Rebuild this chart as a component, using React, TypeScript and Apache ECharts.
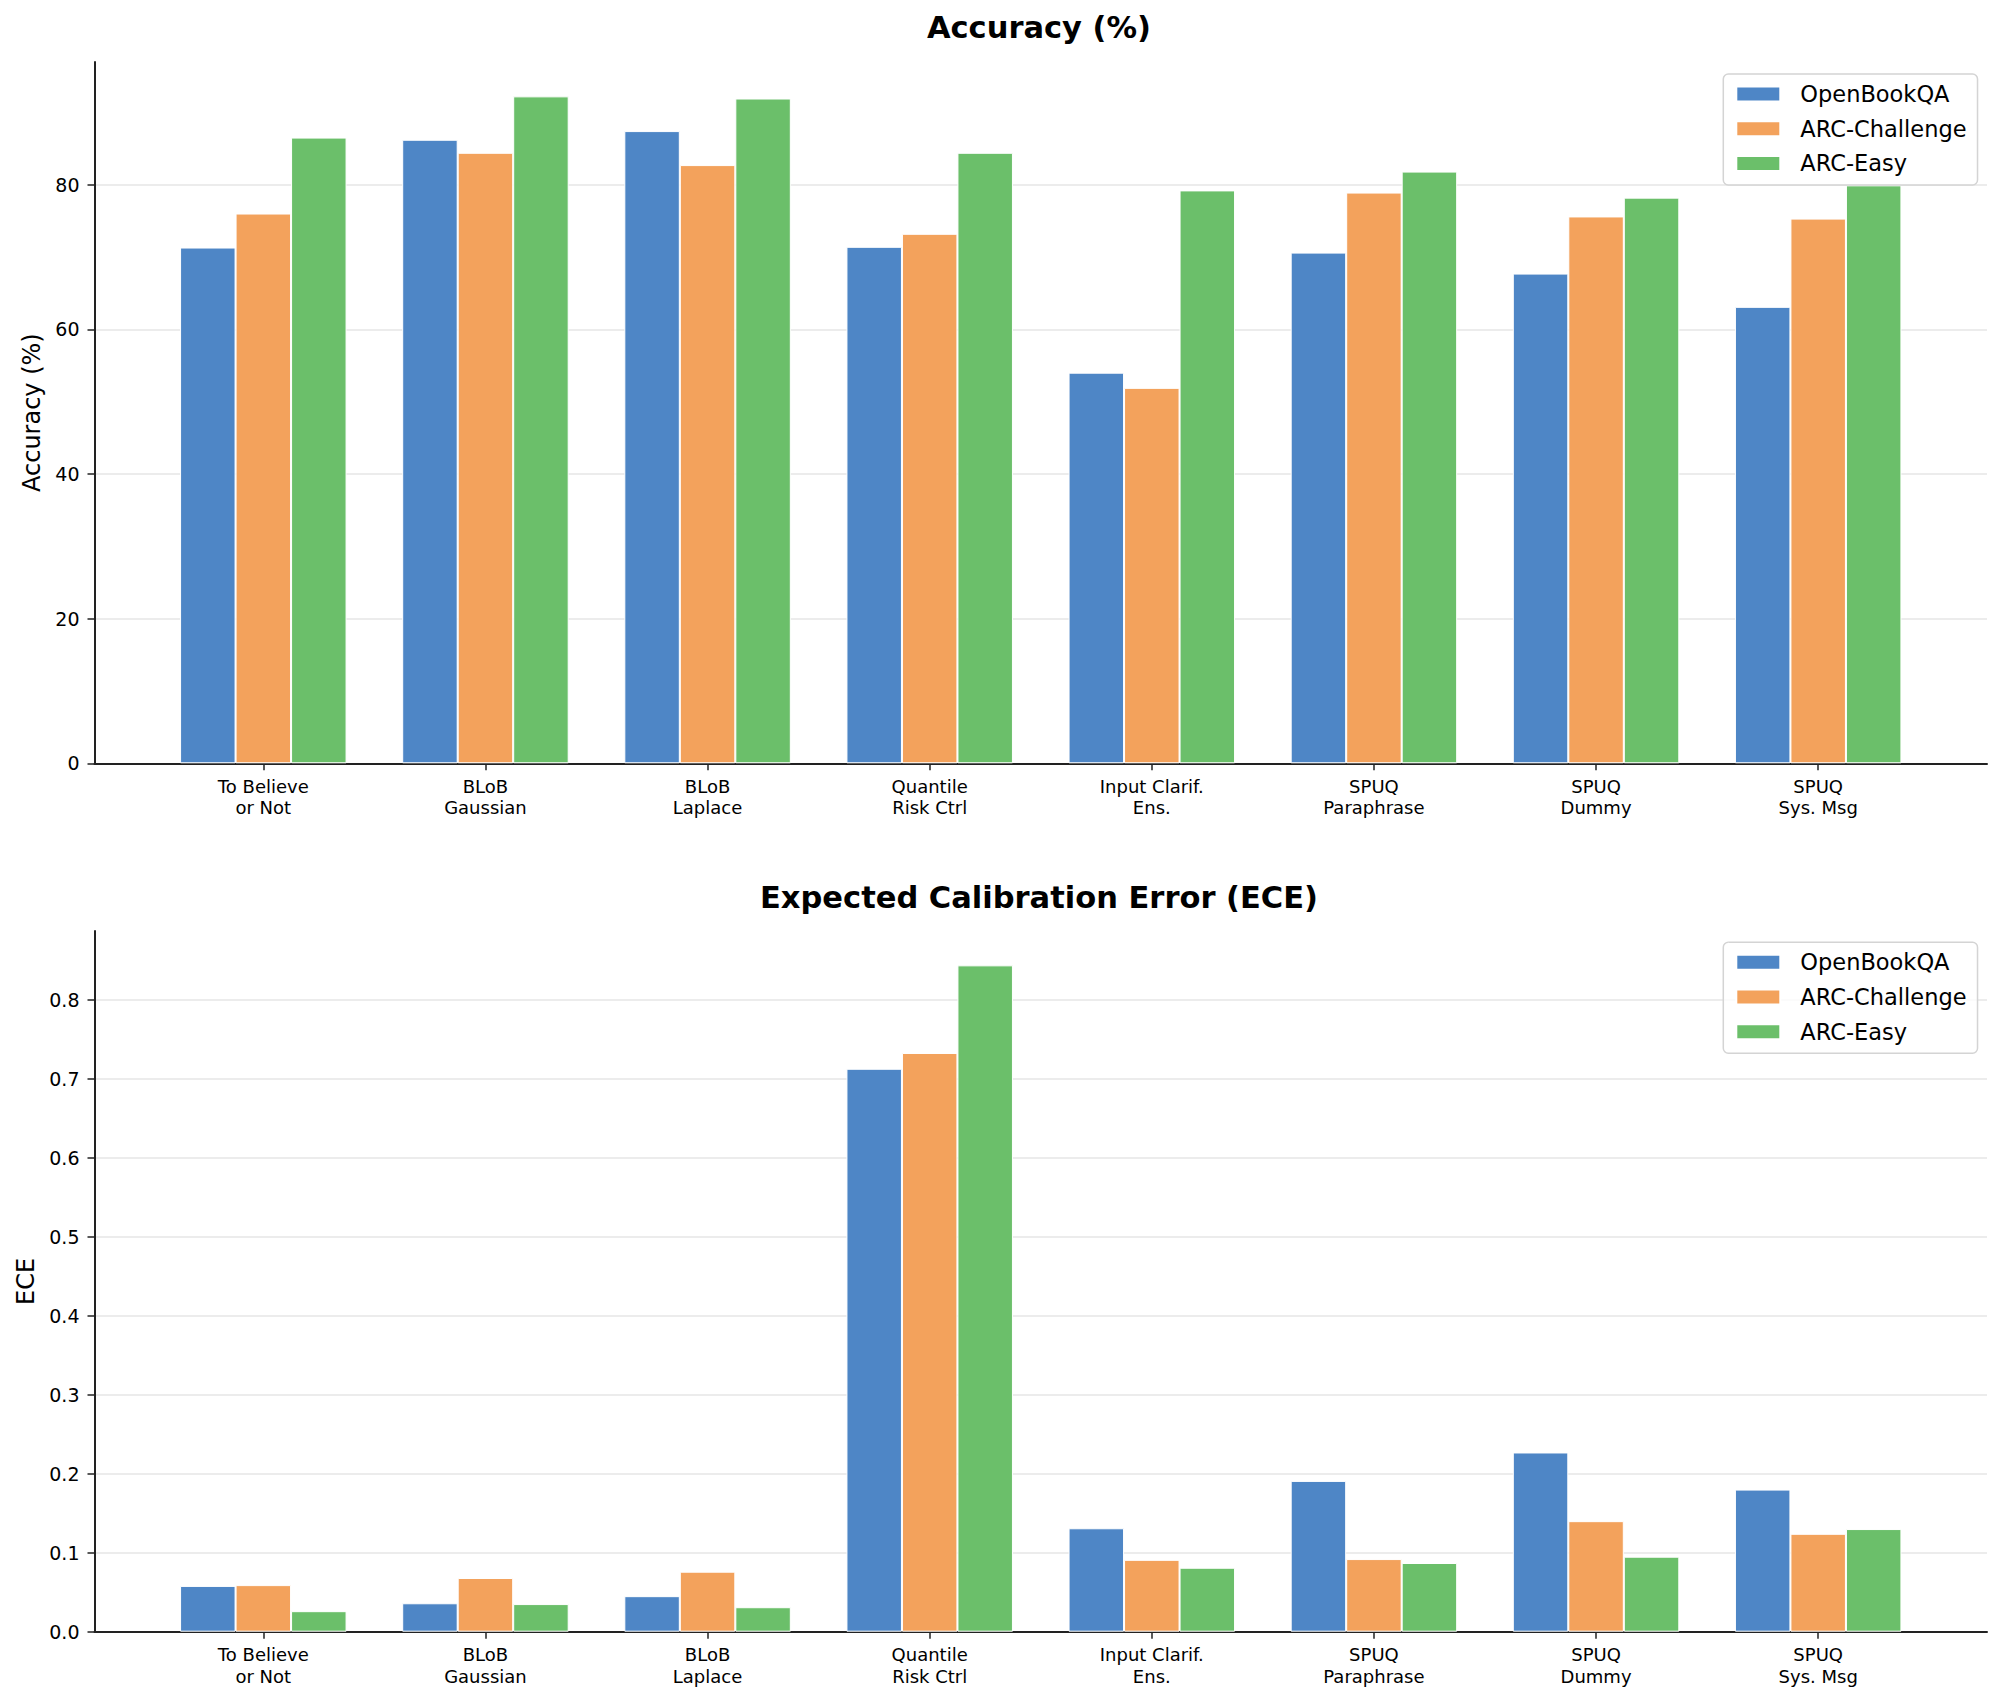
import React, { useEffect, useRef } from 'react';
import * as echarts from 'echarts';

const FONT = 'DejaVu Sans';

const categories = [
  'To Believe\nor Not',
  'BLoB\nGaussian',
  'BLoB\nLaplace',
  'Quantile\nRisk Ctrl',
  'Input Clarif.\nEns.',
  'SPUQ\nParaphrase',
  'SPUQ\nDummy',
  'SPUQ\nSys. Msg',
];
const seriesNames = ['OpenBookQA', 'ARC-Challenge', 'ARC-Easy'];
const seriesColors = ['#4e86c6', '#f3a25c', '#6bbf6a'];

const accOpenBookQA = [71.3, 86.2, 87.4, 71.4, 54.0, 70.6, 67.7, 63.1];
const accArcChallenge = [76.0, 84.4, 82.7, 73.2, 51.9, 78.9, 75.6, 75.3];
const accArcEasy = [86.5, 92.2, 91.9, 84.4, 79.2, 81.8, 78.2, 79.9];

const eceOpenBookQA = [0.058, 0.036, 0.045, 0.713, 0.131, 0.191, 0.227, 0.18];
const eceArcChallenge = [0.059, 0.068, 0.076, 0.733, 0.091, 0.092, 0.14, 0.124];
const eceArcEasy = [0.026, 0.035, 0.031, 0.844, 0.081, 0.087, 0.095, 0.13];

const accTicks = [0, 20, 40, 60, 80];
const eceTicks = [0, 0.1, 0.2, 0.3, 0.4, 0.5, 0.6, 0.7, 0.8];
const catTicks = [0, 1, 2, 3, 4, 5, 6, 7];

const AXIS_COLOR = '#222222';

function xAxisCfg(g: number) {
  return {
    type: 'value',
    gridIndex: g,
    min: -0.76,
    max: 7.76,
    axisLine: { show: true, onZero: false, lineStyle: { color: AXIS_COLOR, width: 2 } },
    axisTick: { show: true, customValues: catTicks, length: 7, lineStyle: { color: AXIS_COLOR, width: 1.5 } },
    axisLabel: {
      customValues: catTicks,
      formatter: (v: number) => categories[Math.round(v)] ?? '',
      fontSize: 18,
      lineHeight: 21.6,
      margin: 12,
      color: '#000',
      fontFamily: FONT,
    },
    splitLine: { show: false },
  };
}

function yAxisCfg(g: number, name: string, max: number, ticks: number[], dec: number, gap: number) {
  return {
    type: 'value',
    gridIndex: g,
    min: 0,
    max,
    name,
    nameLocation: 'middle',
    nameGap: gap,
    nameTextStyle: { fontSize: 24, color: '#000', fontFamily: FONT },
    axisLine: { show: true, onZero: false, lineStyle: { color: AXIS_COLOR, width: 2 } },
    axisTick: { show: true, customValues: ticks, length: 7, lineStyle: { color: AXIS_COLOR, width: 1.5 } },
    axisLabel: {
      customValues: ticks,
      formatter: (v: number) => v.toFixed(dec),
      fontSize: 19,
      margin: 15,
      color: '#000',
      fontFamily: FONT,
    },
    splitLine: { show: true, lineStyle: { color: '#e6e6e6', width: 1.5 } },
  };
}

function barSeries(g: number, idx: number, values: number[]) {
  return {
    type: 'bar',
    name: seriesNames[idx],
    xAxisIndex: g,
    yAxisIndex: g,
    data: values.map((v, i) => [i, v]),
    barWidth: 55.5,
    barGap: '0%',
    itemStyle: { color: seriesColors[idx], borderColor: '#ffffff', borderWidth: 1 },
    emphasis: { disabled: true },
    silent: true,
    z: 3,
  };
}

function legendCfg(top: number) {
  return {
    orient: 'vertical',
    left: 1723.3,
    top,
    padding: [8.5, 11, 10, 12],
    itemWidth: 44,
    itemHeight: 15,
    itemGap: 11.7,
    icon: 'rect',
    backgroundColor: 'rgba(255,255,255,0.8)',
    borderColor: '#d4d4d4',
    borderWidth: 1.5,
    borderRadius: 5,
    selectedMode: false,
    textStyle: { fontSize: 22.5, lineHeight: 22.5, color: '#000', fontFamily: FONT, padding: [0, 0, 0, 15] },
    data: seriesNames,
    z: 10,
  };
}

export default function App() {
  const ref = useRef<HTMLDivElement>(null);
  useEffect(() => {
    const chart = echarts.init(ref.current!, null, { renderer: 'svg' });
    const option = {
      animation: false,
      backgroundColor: '#ffffff',
      textStyle: { fontFamily: FONT },
      grid: [
        { left: 94.5, right: 15, top: 62, bottom: 1703 - 763.3 },
        { left: 94.5, right: 15, top: 931, bottom: 1703 - 1631.7 },
      ],
      xAxis: [xAxisCfg(0), xAxisCfg(1)],
      yAxis: [
        yAxisCfg(0, 'Accuracy (%)', 96.95, accTicks, 0, 48),
        yAxisCfg(1, 'ECE', 0.8875, eceTicks, 1, 52),
      ],
      legend: [legendCfg(74), legendCfg(942.3)],
      series: [
        barSeries(0, 0, accOpenBookQA),
        barSeries(0, 1, accArcChallenge),
        barSeries(0, 2, accArcEasy),
        barSeries(1, 0, eceOpenBookQA),
        barSeries(1, 1, eceArcChallenge),
        barSeries(1, 2, eceArcEasy),
      ],
      graphic: [
        {
          type: 'text',
          x: 1039,
          y: 27.5,
          style: {
            text: 'Accuracy (%)',
            font: `bold 30.5px "${FONT}"`,
            fill: '#000',
            textAlign: 'center',
            textVerticalAlign: 'middle',
          },
        },
        {
          type: 'text',
          x: 1039,
          y: 897,
          style: {
            text: 'Expected Calibration Error (ECE)',
            font: `bold 30.5px "${FONT}"`,
            fill: '#000',
            textAlign: 'center',
            textVerticalAlign: 'middle',
          },
        },
      ],
    };
    chart.setOption(option as any);
    return () => chart.dispose();
  }, []);
  return (
    <div
      ref={ref}
      style={{ position: 'absolute', left: 0, top: 0, width: 2002, height: 1703, background: '#fff' }}
    />
  );
}
